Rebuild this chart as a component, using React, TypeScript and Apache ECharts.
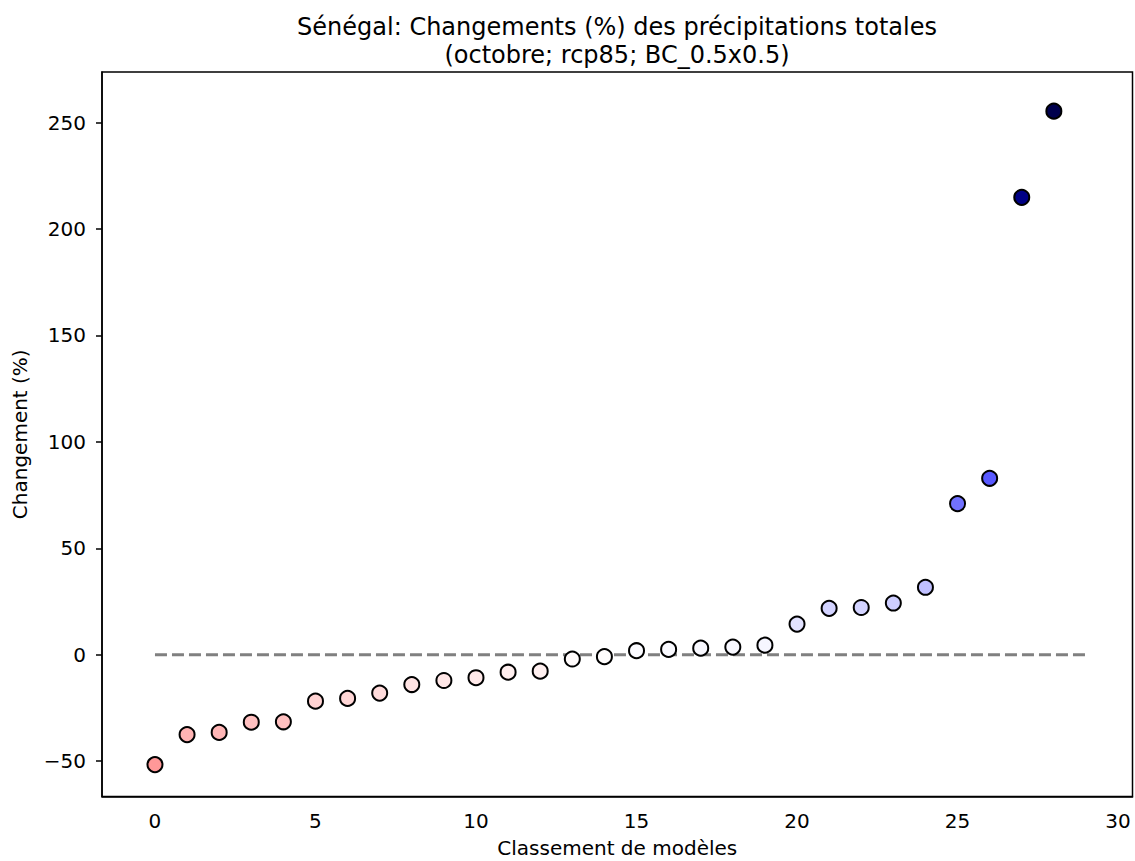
import React, { useEffect, useRef } from "react";
import * as echarts from "echarts";

const ranks = [0, 1, 2, 3, 4, 5, 6, 7, 8, 9, 10, 11, 12, 13, 14, 15, 16, 17, 18, 19, 20, 21, 22, 23, 24, 25, 26, 27, 28];
const changes = [
  -51.6, -37.5, -36.5, -31.7, -31.5, -21.8, -20.5, -18.0, -14.0, -12.1,
  -10.8, -8.2, -7.7, -2.0, -0.9, 1.9, 2.5, 3.1, 3.6, 4.5,
  14.4, 21.8, 22.2, 24.3, 31.7, 71.0, 82.9, 214.9, 255.4,
];
const xTicks = [0, 5, 10, 15, 20, 25, 30];
const yTicks = [-50, 0, 50, 100, 150, 200, 250];
const zeroLineX = [0, 29];
const zeroLineY = [0, 0];

const titleText = "Sénégal: Changements (%) des précipitations totales\n(octobre; rcp85; BC_0.5x0.5)";
const xName = "Classement de modèles";
const yName = "Changement (%)";

const FONT = "DejaVu Sans";

const fmt = (v: number) => String(v).replace("-", "\u2212");

export default function App() {
  const ref = useRef<HTMLDivElement>(null);

  useEffect(() => {
    if (!ref.current) return;
    const chart = echarts.init(ref.current, null, { renderer: "svg" });
    const pts = ranks.map((r, i) => [r, changes[i]]);
    const maxAbs = Math.max(...changes.map((v) => Math.abs(v)));
    const linePts = zeroLineX.map((x, i) => [x, zeroLineY[i]]);

    chart.setOption({
      animation: false,
      backgroundColor: "#ffffff",
      textStyle: { fontFamily: FONT },
      title: {
        text: titleText,
        left: 617,
        top: 13,
        padding: 0,
        textAlign: "center",
        textStyle: {
          fontFamily: FONT,
          fontSize: 24,
          lineHeight: 28,
          fontWeight: "normal",
          color: "#000000",
        },
      },
      grid: {
        left: 102,
        right: 2.5,
        top: 72,
        bottom: 64.5,
        containLabel: false,
        outerBoundsMode: "none",
      },
      visualMap: {
        show: false,
        type: "continuous",
        seriesIndex: 1,
        dimension: 1,
        min: -maxAbs,
        max: maxAbs,
        inRange: {
          color: ["#800000", "#ff0000", "#ffffff", "#0000ff", "#00004d"],
        },
      },
      xAxis: {
        type: "value",
        min: -1.65,
        max: 30.45,
        name: xName,
        nameLocation: "middle",
        nameGap: 41,
        nameTextStyle: { fontFamily: FONT, fontSize: 20, color: "#000000" },
        axisLine: { show: true, onZero: false, lineStyle: { color: "#000000", width: 1.5 } },
        axisTick: { show: false },
        axisLabel: {
          customValues: xTicks,
          margin: 14,
          fontFamily: FONT,
          fontSize: 20,
          color: "#000000",
          formatter: fmt,
        },
        splitLine: { show: false },
      },
      yAxis: {
        type: "value",
        min: -66.6,
        max: 273.8,
        name: yName,
        nameLocation: "middle",
        nameGap: 72,
        nameTextStyle: { fontFamily: FONT, fontSize: 20, color: "#000000" },
        axisLine: { show: true, onZero: false, lineStyle: { color: "#000000", width: 1.5 } },
        axisTick: {
          show: true,
          customValues: yTicks,
          length: 6,
          inside: false,
          lineStyle: { color: "#000000", width: 1.5 },
        },
        axisLabel: {
          customValues: yTicks,
          margin: 16,
          fontFamily: FONT,
          fontSize: 20,
          color: "#000000",
          formatter: fmt,
        },
        splitLine: { show: false },
      },
      graphic: [
        {
          type: "rect",
          shape: { x: 102, y: 72, width: 1030.5, height: 724.5 },
          style: { fill: "none", stroke: "#000000", lineWidth: 1.5 },
          silent: true,
          z: 10,
        },
      ],
      series: [
        {
          type: "line",
          data: linePts,
          symbol: "none",
          lineStyle: { color: "#808080", width: 3, type: [12, 5] },
          z: 1,
          silent: true,
        },
        {
          type: "scatter",
          data: pts,
          symbol: "circle",
          symbolSize: 15,
          itemStyle: { borderColor: "#000000", borderWidth: 2, opacity: 1 },
          z: 5,
        },
      ],
    });

    return () => chart.dispose();
  }, []);

  return (
    <div
      ref={ref}
      style={{ position: "fixed", left: 0, top: 0, width: 1135, height: 861, background: "#fff" }}
    />
  );
}
